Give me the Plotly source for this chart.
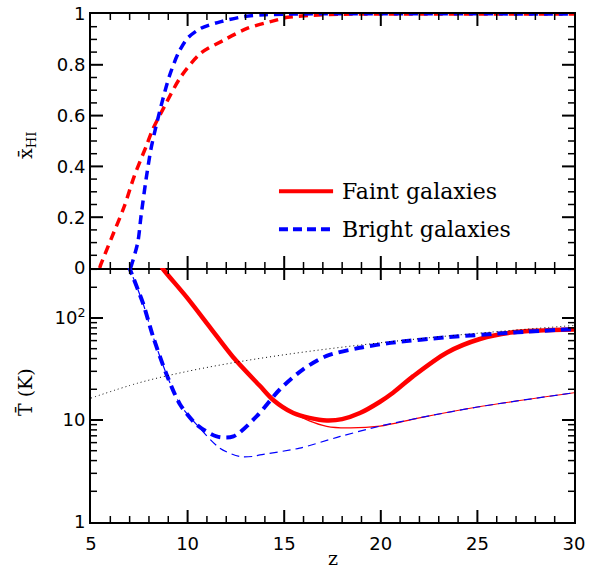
import plotly.graph_objects as go
from plotly.subplots import make_subplots

# ---- top panel: neutral fraction ----
z_xhi_faint = [5.45, 5.52, 6.04, 6.73, 7.24, 7.86, 8.19, 8.8, 9.66, 10.69, 11.9, 13.11, 14.49, 15.18, 16.5, 18.0, 20.0, 30.0]
xhi_faint = [0.0, 0.016, 0.114, 0.244, 0.362, 0.48, 0.545, 0.636, 0.754, 0.846, 0.898, 0.944, 0.974, 0.987, 0.995, 0.999, 1.0, 1.0]

z_xhi_bright = [7.05, 7.42, 7.59, 7.85, 8.1, 8.28, 8.62, 9.05, 9.52, 10.0, 10.69, 11.73, 12.94, 14.0, 15.5, 30.0]
xhi_bright = [0.0, 0.1, 0.205, 0.349, 0.467, 0.53, 0.636, 0.754, 0.846, 0.905, 0.944, 0.97, 0.99, 0.997, 1.0, 1.0]

# ---- bottom panel: mean temperature ----
z_T_faint = [8.6, 8.74, 9.95, 11.16, 12.37, 13.75, 14.4, 15.47, 16.3, 17.2, 18.0, 18.92, 19.96, 20.65, 21.68, 23.41, 25.13, 26.86, 30.0]
T_faint = [330, 300, 160, 81, 41, 21.5, 15.9, 11.7, 10.5, 9.9, 10.2, 11.7, 15.1, 18.6, 26.9, 45.7, 62.2, 72.4, 77]

z_T_faint_noheat = [13.75, 14.4, 15.47, 16.3, 17.2, 18.24, 19.96, 22.0, 25.0, 30.0]
T_faint_noheat = [21.5, 15.9, 11.7, 9.8, 8.67, 8.36, 8.7, 10.5, 13.4, 18.5]

z_T_bright = [6.95, 7.02, 7.7, 8.22, 8.91, 9.61, 10.47, 11.5, 12.37, 13.58, 14.78, 15.98, 17.2, 18.9, 20.5, 23.4, 26.86, 30.0]
T_bright = [330, 300, 138, 65, 28, 14.2, 9.0, 6.9, 6.9, 10.9, 20, 31.4, 42.5, 51, 57, 64.6, 72, 78]

z_T_bright_noheat = [6.95, 7.02, 7.7, 8.22, 8.91, 9.61, 10.47, 11.67, 12.7, 13.4, 13.75, 15.8, 17.9, 19.96, 22.0, 25.0, 30.0]
T_bright_noheat = [330, 300, 138, 65, 28, 14.2, 9.0, 5.3, 4.38, 4.4, 4.55, 5.3, 6.9, 8.7, 10.5, 13.4, 18.5]

z_cmb = [5, 7.5, 10, 12.5, 15, 17.5, 20, 22.5, 25, 27.5, 30]
T_cmb = [16.4, 23.2, 30.0, 36.8, 43.6, 50.4, 57.2, 64.0, 70.8, 77.6, 84.4]

# ---- ticks ----
x_major = [10, 15, 20, 25]
x_minor = [6, 7, 8, 9, 11, 12, 13, 14, 16, 17, 18, 19, 21, 22, 23, 24, 26, 27, 28, 29]
y_top_major = [0.2, 0.4, 0.6, 0.8]
y_top_minor = [0.05, 0.1, 0.15, 0.25, 0.3, 0.35, 0.45, 0.5, 0.55, 0.65, 0.7, 0.75, 0.85, 0.9, 0.95]
y_bot_major = [10, 100]
y_bot_minor = [2, 3, 4, 5, 6, 7, 8, 9, 20, 30, 40, 50, 60, 70, 80, 90, 200, 300]
y_bot_labels_vals = [1, 10, 100]
y_bot_labels = ["1", "10", "10<sup>2</sup>"]

legend_labels = ["Faint galaxies", "Bright galaxies"]

RED = "#ff0000"
BLUE = "#0000ff"

fig = make_subplots(rows=2, cols=1, shared_xaxes=False, vertical_spacing=0)

fig.add_trace(go.Scatter(x=z_xhi_faint, y=xhi_faint, mode="lines",
                         line=dict(color=RED, width=3.5, dash="9px,6px", shape="spline", smoothing=0.8)), row=1, col=1)
fig.add_trace(go.Scatter(x=z_xhi_bright, y=xhi_bright, mode="lines",
                         line=dict(color=BLUE, width=3.5, dash="9px,6px", shape="spline", smoothing=0.8)), row=1, col=1)

fig.add_trace(go.Scatter(x=z_T_faint_noheat, y=T_faint_noheat, mode="lines",
                         line=dict(color=RED, width=1.2, shape="spline", smoothing=0.8)), row=2, col=1)
fig.add_trace(go.Scatter(x=z_T_faint, y=T_faint, mode="lines",
                         line=dict(color=RED, width=4.5, shape="spline", smoothing=0.8)), row=2, col=1)
fig.add_trace(go.Scatter(x=z_T_bright_noheat, y=T_bright_noheat, mode="lines",
                         line=dict(color=BLUE, width=1.2, dash="8px,5px", shape="spline", smoothing=0.8)), row=2, col=1)
fig.add_trace(go.Scatter(x=z_T_bright, y=T_bright, mode="lines",
                         line=dict(color=BLUE, width=4, dash="10px,6px", shape="spline", smoothing=0.8)), row=2, col=1)
fig.add_trace(go.Scatter(x=z_cmb, y=T_cmb, mode="lines",
                         line=dict(color="black", width=1, dash="1px,3px", shape="spline")), row=2, col=1)

tickfont = dict(family="DejaVu Sans", size=18, color="black")
axline = dict(showline=True, linecolor="black", linewidth=2, showgrid=False, zeroline=False, ticks="")

fig.update_xaxes(range=[5, 30], tickmode="linear", tick0=5, dtick=5, mirror=True,
                 showticklabels=False, **axline, row=1, col=1)
fig.update_xaxes(range=[5, 30], tickmode="linear", tick0=5, dtick=5, mirror=False,
                 showticklabels=True, tickfont=tickfont, ticklabelstandoff=4, **axline, row=2, col=1)
fig.update_yaxes(range=[0, 1], tickmode="linear", tick0=0, dtick=0.2, mirror=True,
                 tickfont=tickfont, **axline, row=1, col=1)
fig.update_yaxes(type="log", range=[0, 2.49], tickmode="array", tickvals=y_bot_labels_vals,
                 ticktext=y_bot_labels, mirror=True, tickfont=tickfont, **axline, row=2, col=1)

# tick marks drawn as shapes (inside, on all four sides of each panel)
MAJ, MIN = 12, 6
for xr, yr in (("x", "y"), ("x2", "y2")):
    for vals, ln, w in ((x_major, MAJ, 2), (x_minor, MIN, 1.5)):
        for v in vals:
            for anchor, sgn in ((0, 1), (1, -1)):
                fig.add_shape(type="line", xref=xr, yref=yr + " domain", ysizemode="pixel",
                              yanchor=anchor, x0=v, x1=v, y0=0, y1=sgn * ln,
                              line=dict(color="black", width=w))
for yr, sets in (("y", ((y_top_major, MAJ, 2), (y_top_minor, MIN, 1.5))),
                 ("y2", ((y_bot_major, MAJ, 2), (y_bot_minor, MIN, 1.5)))):
    xr = "x" if yr == "y" else "x2"
    for vals, ln, w in sets:
        for v in vals:
            for anchor, sgn in ((0, 1), (1, -1)):
                fig.add_shape(type="line", xref=xr + " domain", yref=yr, xsizemode="pixel",
                              xanchor=anchor, x0=0, x1=sgn * ln, y0=v, y1=v,
                              line=dict(color="black", width=w))

# legend drawn inside top panel
fig.add_shape(type="line", xref="x", yref="y", x0=14.73, x1=17.53, y0=0.302, y1=0.302,
              line=dict(color=RED, width=4))
fig.add_shape(type="line", xref="x", yref="y", x0=14.73, x1=17.5, y0=0.153, y1=0.153,
              line=dict(color=BLUE, width=4, dash="9px,5px"))
legfont = dict(family="DejaVu Serif", size=22, color="black")
fig.add_annotation(x=17.89, y=0.302, xref="x", yref="y", text=legend_labels[0], showarrow=False,
                   xanchor="left", yanchor="middle", font=legfont)
fig.add_annotation(x=17.89, y=0.153, xref="x", yref="y", text=legend_labels[1], showarrow=False,
                   xanchor="left", yanchor="middle", font=legfont)

W, H = 593, 572
L, R, T, B = 91, 19, 14, 50

def px_to_paper(px, py):
    return (px - L) / (W - L - R), 1 - (py - T) / (H - T - B)

titlefont = dict(family="DejaVu Serif", size=19, color="black")
ax_, ay_ = px_to_paper(26, 145)
fig.add_annotation(x=ax_, y=ay_, xref="paper", yref="paper", text="x\u0304<sub>HI</sub>", showarrow=False,
                   textangle=-90, font=titlefont, xanchor="center", yanchor="middle")
ax_, ay_ = px_to_paper(25, 392)
fig.add_annotation(x=ax_, y=ay_, xref="paper", yref="paper", text="T\u0304 (K)", showarrow=False,
                   textangle=-90, font=titlefont, xanchor="center", yanchor="middle")
ax_, ay_ = px_to_paper(333, 571)
fig.add_annotation(x=ax_, y=ay_, xref="paper", yref="paper", text="z", showarrow=False,
                   font=titlefont, xanchor="center", yanchor="bottom")

fig.update_layout(template="none", width=W, height=H, margin=dict(l=L, r=R, t=T, b=B),
                  plot_bgcolor="white", paper_bgcolor="white", showlegend=False)

fig.write_html("out.html")
